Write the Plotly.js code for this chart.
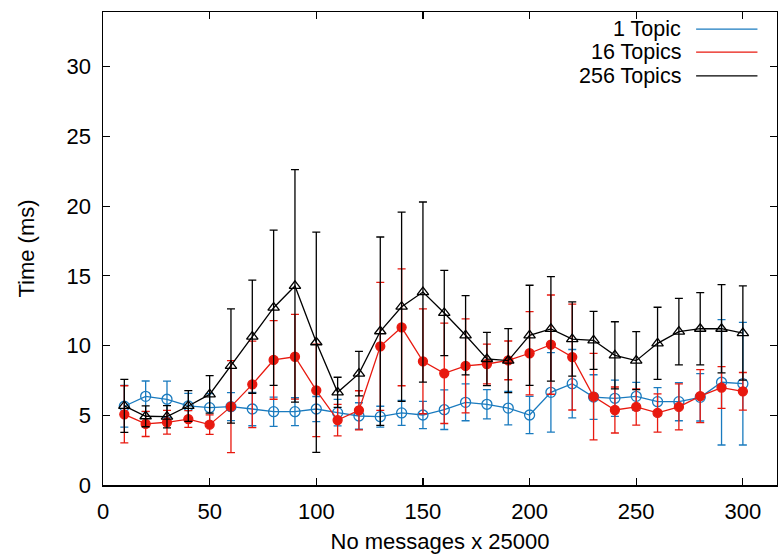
<!DOCTYPE html>
<html><head><meta charset="utf-8">
<script src="https://cdn.plot.ly/plotly-3.0.1.min.js"></script>
<style>html,body{margin:0;padding:0;background:#fff}#chart{width:778px;height:557px}</style>
</head><body><div id="chart"></div>
<script>
var xVals = [10,20,30,40,50,60,70,80,90,100,110,120,130,140,150,160,170,180,190,200,210,220,230,240,250,260,270,280,290,300];
var seriesNames = ["1 Topic","16 Topics","256 Topics"];
var oneTopic = [5.65,6.36,6.15,5.67,5.55,5.62,5.45,5.26,5.26,5.45,5.19,4.95,4.9,5.17,5.02,5.4,5.93,5.79,5.52,5.02,6.65,7.27,6.31,6.22,6.36,5.98,5.98,6.29,7.37,7.27];
var oneTopicErr = [1.5,1.1,1.3,0.9,1.0,1.0,1.2,1.05,1.0,0.9,0.95,0.95,0.75,0.9,0.98,1.42,1.32,1.05,1.2,1.34,2.85,2.45,1.6,1.3,1.0,1.0,1.37,1.7,4.5,4.4];
var sixteenTopics = [5.07,4.38,4.5,4.73,4.33,5.62,7.22,8.97,9.2,6.79,4.66,5.36,9.95,11.31,8.87,8.01,8.54,8.68,8.94,9.45,10.07,9.18,6.34,5.38,5.6,5.17,5.6,6.38,6.99,6.72];
var sixteenTopicsErr = [2.05,0.9,0.85,0.6,0.7,3.3,3.1,2.82,3.04,3.32,1.13,1.4,4.59,4.19,3.76,3.6,3.37,1.43,1.39,2.98,3.56,3.8,3.1,1.65,1.3,1.37,1.65,1.9,1.5,1.35];
var twoFiftySixTopics = [5.67,4.93,4.9,5.67,6.5,8.54,10.64,12.72,14.28,10.24,6.65,7.99,11.03,12.79,13.84,12.34,10.74,9.04,8.92,10.74,11.2,10.47,10.38,9.3,8.92,10.16,11.0,11.21,11.21,10.9];
var twoFiftySixTopicsErr = [1.9,0.75,0.8,1.1,1.35,4.1,4.06,5.57,8.34,7.9,1.08,1.6,6.76,6.79,6.46,3.06,2.84,1.91,2.3,3.59,3.75,2.66,2.08,2.41,2.08,2.59,2.39,2.59,3.16,3.38];

var colors = ["#1a7bbf","#e8190f","#000000"];
var symbols = ["circle-open","circle","triangle-up-open"];
var ys = [oneTopic, sixteenTopics, twoFiftySixTopics];
var errs = [oneTopicErr, sixteenTopicsErr, twoFiftySixTopicsErr];
var FONT = 'Liberation Sans, Arial, sans-serif';

var traces = ys.map(function(y,i){
  return {
    x: xVals, y: y, name: seriesNames[i], type: 'scatter', mode: 'lines+markers',
    line: {color: colors[i], width: 1.3},
    marker: {symbol: symbols[i], size: i===1 ? 9 : 10, color: colors[i], line: {color: colors[i], width: 1.3}},
    error_y: {type: 'data', array: errs[i], visible: true, color: colors[i], thickness: 1.3, width: 4},
    showlegend: false
  };
});

var annotations = [], shapes = [];
var legendY = [0.964, 0.915, 0.865];
seriesNames.forEach(function(n,i){
  annotations.push({xref:'paper', yref:'paper', x:0.858, y:legendY[i], text:n, showarrow:false, xanchor:'right', yanchor:'middle', xshift:2, font:{family:FONT, size:21.5, color:'#000'}});
  shapes.push({type:'line', xref:'paper', yref:'paper', x0:0.880, x1:0.971, y0:legendY[i], y1:legendY[i], line:{color:colors[i], width:1.3}});
});

var axisCommon = {
  showline: true, linecolor: '#000', linewidth: 1.5, mirror: 'ticks',
  ticks: 'inside', ticklen: 7, tickwidth: 1.2, tickcolor: '#000',
  showgrid: false, zeroline: false,
  tickfont: {family: FONT, size: 22, color: '#000'}
};

var layout = {
  width: 778, height: 557,
  margin: {l: 103, r: 1, t: 12, b: 72},
  paper_bgcolor: '#fff', plot_bgcolor: '#fff',
  xaxis: Object.assign({}, axisCommon, {range: [0, 316], tickvals: [0,50,100,150,200,250,300], ticklabelstandoff: 6,
    title: {text: 'No messages x 25000', font: {family: FONT, size: 22, color: '#000'}, standoff: 10}}),
  yaxis: Object.assign({}, axisCommon, {range: [0, 33.93], tickvals: [0,5,10,15,20,25,30], ticklabelstandoff: 6,
    title: {text: 'Time (ms)', font: {family: FONT, size: 22, color: '#000'}, standoff: 26}}),
  annotations: annotations, shapes: shapes,
  showlegend: false
};

Plotly.newPlot('chart', traces, layout, {displayModeBar: false, staticPlot: true});
</script></body></html>
